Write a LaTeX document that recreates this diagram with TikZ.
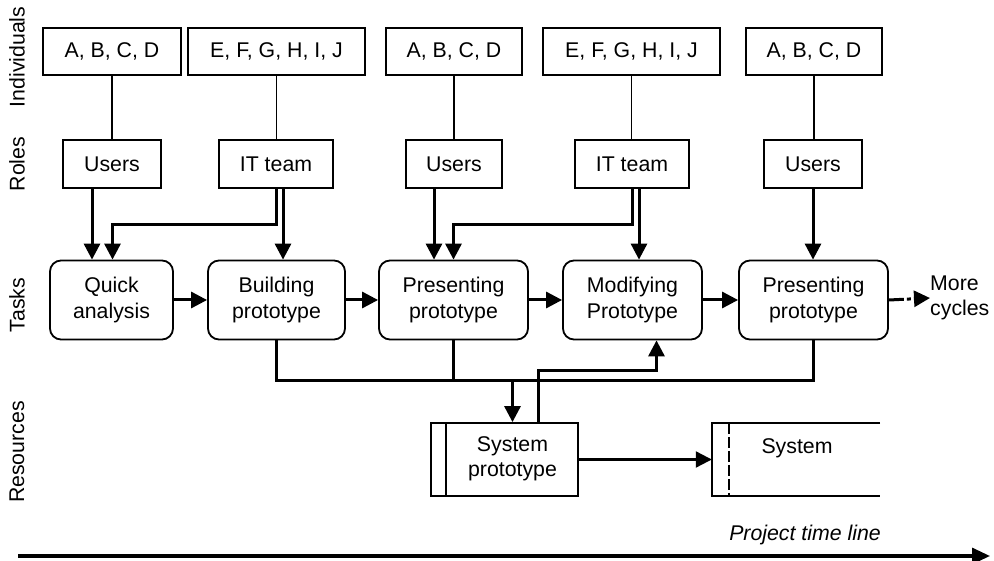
\documentclass[tikz,border=0pt]{standalone}
\usepackage{fontspec}
\setmainfont{Liberation Sans}
\usetikzlibrary{arrows.meta}
\begin{document}
\begin{tikzpicture}[x=1pt,y=-1pt,
  every node/.style={font=\fontsize{21.3}{25.5}\selectfont, inner sep=0pt},
  plainbox/.style={draw, line width=1.8pt, rectangle},
  taskbox/.style={draw, line width=1.8pt, rectangle, rounded corners=11pt,
    minimum width=#1, minimum height=79pt, align=center},
  thinline/.style={line width=1.5pt},
  bold/.style={line width=3pt},
  conn/.style={line width=3pt, -{Triangle[width=16pt,length=16pt]}},
  lane/.style={rotate=90}
]
\useasboundingbox (0,0) rectangle (994,561);

% swimlane titles
\node[lane] (lind) at (17,57) {Individuals};
\node[lane] (lrol) at (17,164) {Roles};
\node[lane] (ltsk) at (17,305) {Tasks};
\node[lane] (lres) at (17,452) {Resources};

% individuals
\node[plainbox, minimum width=138pt, minimum height=47pt] (ind1) at (112,51.5) {A, B, C, D};
\node[plainbox, minimum width=177pt, minimum height=47pt] (ind2) at (276.5,51.5) {E, F, G, H, I, J};
\node[plainbox, minimum width=136pt, minimum height=47pt] (ind3) at (454,51.5) {A, B, C, D};
\node[plainbox, minimum width=177pt, minimum height=47pt] (ind4) at (631.5,51.5) {E, F, G, H, I, J};
\node[plainbox, minimum width=136pt, minimum height=47pt] (ind5) at (814,51.5) {A, B, C, D};

% roles
\node[plainbox, minimum width=98pt, minimum height=48pt] (users1) at (112,164) {Users};
\node[plainbox, minimum width=114pt, minimum height=48pt] (it1) at (276,164) {IT team};
\node[plainbox, minimum width=96pt, minimum height=48pt] (users2) at (454,164) {Users};
\node[plainbox, minimum width=114pt, minimum height=48pt] (it2) at (632,164) {IT team};
\node[plainbox, minimum width=98pt, minimum height=48pt] (users3) at (813,164) {Users};

% tasks
\node[taskbox=123pt] (task1) at (111.5,300) {Quick\\analysis};
\node[taskbox=137pt] (task2) at (276.5,300) {Building\\prototype};
\node[taskbox=149pt] (task3) at (453.5,300) {Presenting\\prototype};
\node[taskbox=139pt] (task4) at (632.5,300) {Modifying\\Prototype};
\node[taskbox=149pt] (task5) at (813.5,300) {Presenting\\prototype};
\node[anchor=west, align=left] (more) at (930,298) {More\\cycles};

% resources
\node[plainbox, minimum width=147pt, minimum height=73pt] (sysproto) at (504.5,459.5) {};
\node[align=center] (sysprotolabel) at (512.5,459) {System\\prototype};
\node[minimum width=168pt, minimum height=73pt] (system) at (796,459.5) {};
\node (systemlabel) at (797,448) {System};
\coordinate (bus) at (0,381);

% individuals to roles
\foreach \i/\r in {ind1/users1, ind2/it1, ind3/users2, ind4/it2, ind5/users3}
  \draw[thinline] (\i.south) -- (\i.south |- \r.north);

% roles to tasks
\draw[conn] ([xshift=-20pt]users1.south) -- ([xshift=-20pt]users1.south |- task1.north);
\draw[conn] (it1.south) -- ++(0,36) -| ([xshift=1pt]task1.north);
\draw[conn] ([xshift=7pt]it1.south) -- ([xshift=7pt]it1.south |- task2.north);
\draw[conn] ([xshift=-20pt]users2.south) -- ([xshift=-20pt]users2.south |- task3.north);
\draw[conn] (it2.south) -- ++(0,36) -| (task3.north);
\draw[conn] ([xshift=7pt]it2.south) -- ([xshift=7pt]it2.south |- task4.north);
\draw[conn] (users3.south) -- (users3.south |- task5.north);

% task sequence
\draw[conn] (task1.east) -- (task2.west);
\draw[conn] (task2.east) -- (task3.west);
\draw[conn] (task3.east) -- (task4.west);
\draw[conn] (task4.east) -- (task5.west);
\draw[line width=3pt, dash pattern=on 15pt off 3pt on 4pt off 3pt,
  -{Triangle[width=16pt,length=16pt]}] (task5.east) -- (more.west);

% prototype bus
\draw[bold] (task2.south) -- (task2.south |- bus) -- (task5.south |- bus) -- (task5.south);
\draw[bold] (task3.south) -- (task3.south |- bus);
\draw[conn] ([xshift=8pt]sysproto.north |- bus) -- ([xshift=8pt]sysproto.north);
\draw[conn] ([xshift=34pt]sysproto.north) -- ++(0,-52) -| ([xshift=24pt]task4.south);

% resource boxes
\draw[line width=1.8pt] ([xshift=16pt]sysproto.north west) -- ([xshift=16pt]sysproto.south west);
\draw[line width=1.8pt] (system.north east) -- (system.north west) -- (system.south west) -- (system.south east);
\draw[line width=1.8pt, dash pattern=on 11pt off 3pt] ([xshift=17pt]system.north west) -- ([xshift=17pt]system.south west);
\draw[line width=2.2pt, -{Triangle[width=16pt,length=16pt]}] (sysproto.east) -- (system.west);

% time line
\coordinate (tstart) at (18,556);
\coordinate (tend) at (990,556);
\draw[line width=3.2pt, -{Triangle[width=16pt,length=18pt]}] (tstart) -- (tend);
\node[anchor=base east, font=\fontsize{21.3}{25.5}\selectfont\itshape] (tl) at (881,540) {Project time line};
\end{tikzpicture}
\end{document}
